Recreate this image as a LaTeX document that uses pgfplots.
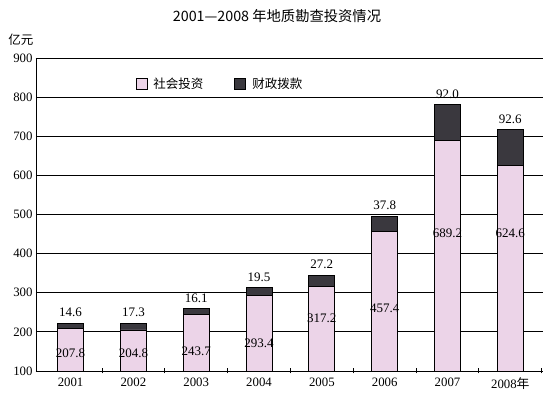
\documentclass[border=0pt]{standalone}
\usepackage{pgfplots}
\pgfplotsset{compat=1.18}
\usepackage{pgfplotstable}
\usepackage{fontspec}
\setmainfont{Liberation Serif}
\newfontfamily\cjk{Noto Sans CJK SC}
\definecolor{soc}{RGB}{236,212,232}
\definecolor{fin}{RGB}{58,56,62}
\pgfplotstableread{
x soc fin
0 207.8 14.6
1 204.8 17.3
2 243.7 16.1
3 293.4 19.5
4 317.2 27.2
5 457.4 37.8
6 689.2 92.0
7 624.6 92.6
}\data
\begin{document}
\begin{tikzpicture}
\begin{axis}[
  name=ax,
  scale only axis,
  width=507pt, height=313pt,
  xmin=-0.55, xmax=7.52,
  ymin=100, ymax=900,
  ytick={100,200,...,900},
  xtick={0,...,7},
  xticklabels={2001,2002,2003,2004,2005,2006,2007,{2008{\cjk 年}}},
  minor xtick={0.5,1.5,...,7.5},
  major tick length=0pt,
  minor tick length=5pt,
  tick align=inside,
  axis x line=bottom, axis y line=left,
  axis line style={-, black, line width=0.9pt},
  every minor tick/.style={black, line width=0.9pt},
  ymajorgrids,
  grid style={black, line width=0.8pt},
  ytick style={draw=none},
  /pgf/number format/assume math mode=true,
  ticklabel style={font=\fontsize{12.8}{13}\selectfont},
  xticklabel style={yshift=-3pt},
  ybar stacked,
  bar width=26pt,
  legend style={draw=none, fill=none, at={(0.19,0.95)}, anchor=north west,
    legend columns=2, font=\cjk\fontsize{12.5}{13}\selectfont,
    /tikz/every even column/.append style={column sep=29pt}},
  legend image code/.code={\draw[#1] (0pt,-5.5pt) rectangle (11pt,5.5pt); \path (15pt,0pt);},
]
\addplot[draw=black, line width=0.9pt, fill=soc] table[x=x,y=soc]{\data};
\addlegendentry{社会投资}
\addplot[draw=black, line width=0.9pt, fill=fin] table[x=x,y=fin]{\data};
\addlegendentry{财政拨款}
% anchor points for labels
\foreach \i/\t/\q in {0/222.4/146,1/222.1/146,2/259.8/151,3/312.9/172,4/344.4/235,5/495.2/261,6/781.2/453,7/717.2/453}{
  \edef\temp{\noexpand\coordinate (f\i) at (axis cs:\i,\t); \noexpand\coordinate (s\i) at (axis cs:\i,\q);}
  \temp
}
\end{axis}
\begin{scope}[every node/.style={font=\fontsize{13}{13}\selectfont}]
\foreach \i/\v in {0/14.6,1/17.3,2/16.1,3/19.5,4/27.2,5/37.8,6/92.0,7/92.6}{
  \node[anchor=south, inner sep=0pt, yshift=6pt] at (f\i) {\v};
}
\foreach \i/\v in {0/207.8,1/204.8,2/243.7,3/293.4,4/317.2,5/457.4,6/689.2,7/624.6}{
  \node[inner sep=0pt] at (s\i) {\v};
}
\end{scope}
\node[font=\cjk\fontsize{14.3}{15}\selectfont] at ([xshift=-12.5pt, yshift=42pt]ax.north) {2001—2008 年地质勘查投资情况};
\node[font=\cjk\fontsize{12.5}{13}\selectfont] at ([xshift=-15pt, yshift=18pt]ax.north west) {亿元};
\pgfresetboundingbox
\path ([shift={(-36pt,-23pt)}]ax.south west) rectangle ([shift={(9pt,58pt)}]ax.north east);
\end{tikzpicture}
\end{document}
